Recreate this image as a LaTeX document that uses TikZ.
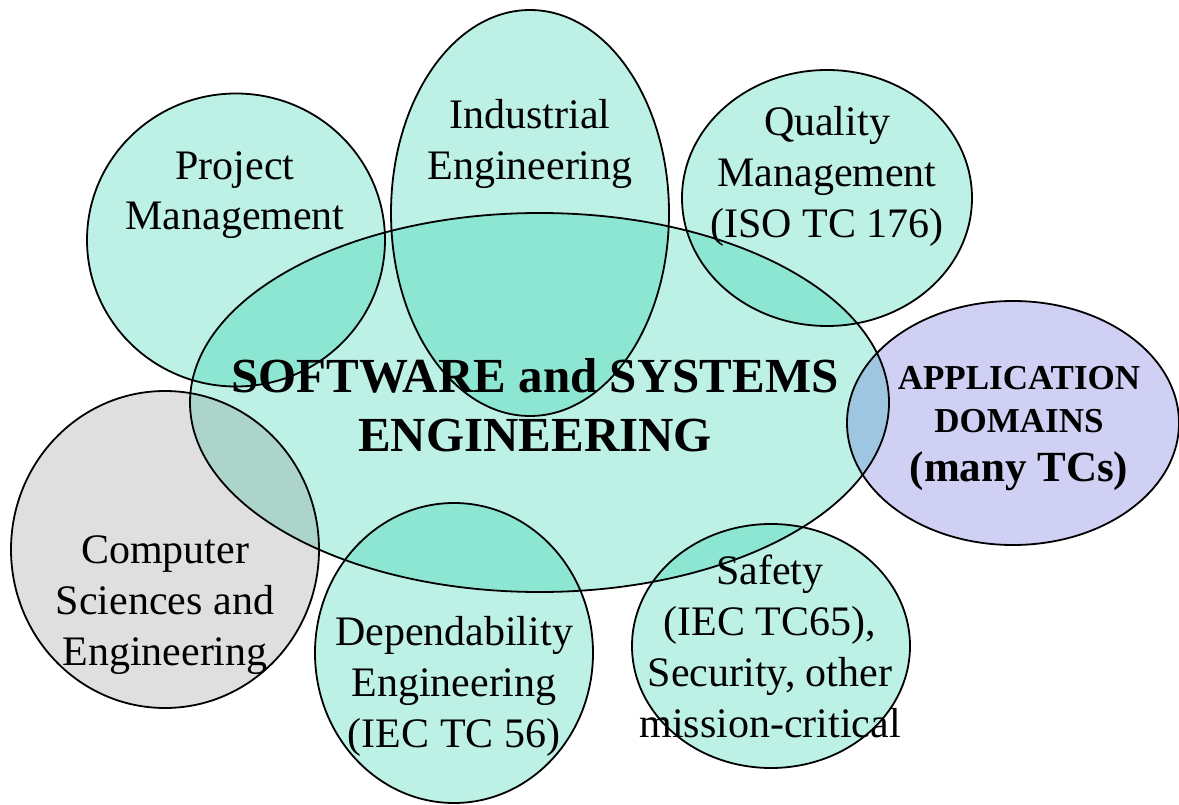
\documentclass[tikz,border=0pt]{standalone}
\usepackage{fontspec}
\setmainfont{Liberation Serif}
\definecolor{mint}{RGB}{0,200,155}
\definecolor{dotgray}{RGB}{120,120,120}
\definecolor{dotblue}{RGB}{60,60,210}
\begin{document}
\begin{tikzpicture}[x=1pt,y=-1pt,
  outline/.style={draw=black,line width=1.8pt},
  tealfill/.style={fill=mint,fill opacity=0.26},
  grayfill/.style={fill=dotgray,fill opacity=0.24},
  bluefill/.style={fill=dotblue,fill opacity=0.24},
  lbl/.style={align=center,anchor=base,inner sep=0pt,font=\fontsize{42}{51}\selectfont},
  boldlbl/.style={lbl,font=\bfseries\fontsize{49}{59}\selectfont},
  domlbl/.style={lbl,font=\bfseries\fontsize{35}{43}\selectfont}]
\useasboundingbox (0,0) rectangle (1179,805);

% centres of the areas
\coordinate (cSSE) at (539.5,402.5);
\coordinate (cPM)  at (236,240);
\coordinate (cIE)  at (530,213);
\coordinate (cQM)  at (827,198);
\coordinate (cAD)  at (1013,423);
\coordinate (cCS)  at (165,549.5);
\coordinate (cDE)  at (454,653);
\coordinate (cSA)  at (771,646);

% translucent dotted-looking fills first
\path[tealfill] (cSSE) ellipse [x radius=349.5pt,y radius=189.5pt];
\path[tealfill] (cPM)  ellipse [x radius=149pt,y radius=146.5pt];
\path[tealfill] (cIE)  ellipse [x radius=139pt,y radius=203pt];
\path[tealfill] (cQM)  ellipse [x radius=145pt,y radius=128pt];
\path[bluefill] (cAD)  ellipse [x radius=166pt,y radius=122pt];
\path[grayfill] (cCS)  ellipse [x radius=154pt,y radius=158.5pt];
\path[tealfill] (cDE)  ellipse [x radius=139pt,y radius=150pt];
\path[tealfill] (cSA)  ellipse [x radius=139pt,y radius=122pt];

% outlines on top of every fill
\path[outline] (cSSE) ellipse [x radius=349.5pt,y radius=189.5pt];
\path[outline] (cPM)  ellipse [x radius=149pt,y radius=146.5pt];
\path[outline] (cIE)  ellipse [x radius=139pt,y radius=203pt];
\path[outline] (cQM)  ellipse [x radius=145pt,y radius=128pt];
\path[outline] (cAD)  ellipse [x radius=166pt,y radius=122pt];
\path[outline] (cCS)  ellipse [x radius=154pt,y radius=158.5pt];
\path[outline] (cDE)  ellipse [x radius=139pt,y radius=150pt];
\path[outline] (cSA)  ellipse [x radius=139pt,y radius=122pt];

% labels (anchored at the baseline of their last line)
\node[lbl] (pm) at (235,230) {Project\\Management};
\node[lbl] (ie) at (530,180) {Industrial\\Engineering};
\node[lbl] (qm) at (827,238) {Quality\\Management\\(ISO TC 176)};
\node[boldlbl] (sse) at (535,451) {SOFTWARE and SYSTEMS\\ENGINEERING};
\node[domlbl] (ad) at (1019,481) {APPLICATION\\DOMAINS\\[6pt]{\fontsize{43}{43}\selectfont(many TCs)}};
\node[lbl] (cs) at (165,665) {Computer\\Sciences and\\Engineering};
\node[lbl] (de) at (454,747) {Dependability\\Engineering\\(IEC TC 56)};
\node[lbl] (sa) at (770,737) {Safety\\(IEC TC65),\\Security, other\\mission-critical};
\end{tikzpicture}
\end{document}
